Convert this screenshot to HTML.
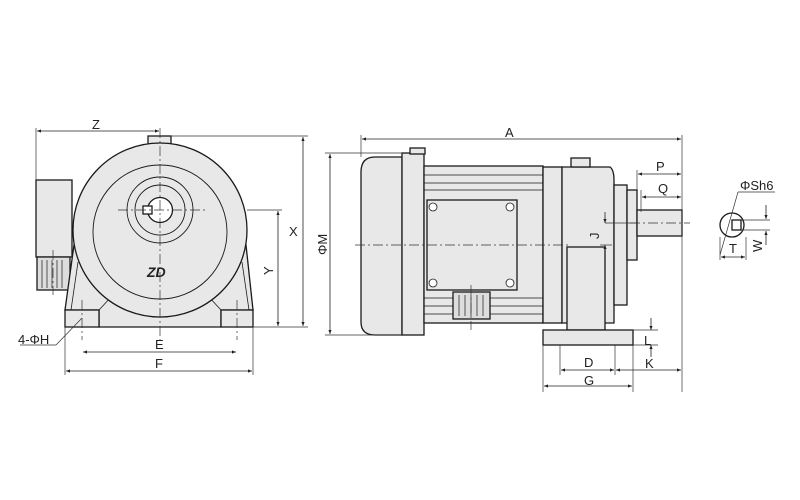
<!DOCTYPE html>
<html><head><meta charset="utf-8"><style>
html,body{margin:0;padding:0;background:#fff}
svg{display:block}
text{font-family:"Liberation Sans",sans-serif;font-size:13px;fill:#222}
</style></head><body>
<svg width="800" height="500" viewBox="0 0 800 500" xmlns="http://www.w3.org/2000/svg">
<defs>
<marker id="a" viewBox="0 0 10 10" refX="10" refY="5" markerWidth="7" markerHeight="5" orient="auto-start-reverse"><path d="M0,1 L10,5 L0,9z" fill="#222"/></marker>
</defs>
<g stroke="#1a1a1a" stroke-width="1.3" fill="#e8e8e8">
<!-- LEFT VIEW -->
<rect x="36" y="180" width="36" height="77"/>
<rect x="37" y="257" width="33" height="33" fill="#ddd"/>
<g stroke-width="0.7"><line x1="42" y1="260" x2="42" y2="288"/><line x1="47" y1="260" x2="47" y2="288"/><line x1="52" y1="260" x2="52" y2="288"/><line x1="57" y1="260" x2="57" y2="288"/><line x1="62" y1="260" x2="62" y2="288"/></g>
<path d="M74,245 L65,310 L99,310 L99,327 L221,327 L221,310 L253,310 L246,245 Z"/>
<g stroke-width="0.8" fill="none"><line x1="78" y1="262" x2="71" y2="310"/><line x1="242" y1="262" x2="249" y2="310"/><line x1="99" y1="310" x2="112" y2="296"/><line x1="221" y1="310" x2="208" y2="296"/></g>
<rect x="65" y="310" width="34" height="17"/>
<rect x="221" y="310" width="32" height="17"/>
<rect x="148" y="136" width="23" height="10"/>
<circle cx="160" cy="230" r="87"/>
<circle cx="160" cy="232" r="67" fill="none" stroke-width="0.9"/>
<circle cx="160" cy="210" r="33" fill="none" stroke-width="0.9"/>
<circle cx="160" cy="210" r="25" fill="none" stroke-width="0.9"/>
<circle cx="160" cy="210" r="12.5" fill="#fff"/>
<rect x="143" y="206" width="9" height="8" fill="#fff"/>
<!-- RIGHT VIEW -->
<path d="M402,157 L375,157 Q361,157 361,172 L361,322 Q361,335 375,335 L402,335 Z"/>
<rect x="402" y="153" width="22" height="182"/>
<rect x="410" y="148" width="15" height="6"/>
<rect x="424" y="166" width="119" height="157"/>
<g stroke-width="0.8" fill="none"><line x1="424" y1="175" x2="543" y2="175"/><line x1="424" y1="183" x2="543" y2="183"/><line x1="424" y1="190" x2="543" y2="190"/><line x1="424" y1="298" x2="543" y2="298"/><line x1="424" y1="306" x2="543" y2="306"/><line x1="424" y1="314" x2="543" y2="314"/></g>
<rect x="427" y="200" width="90" height="90"/>
<g fill="#fff" stroke-width="0.8"><circle cx="433" cy="207" r="4"/><circle cx="510" cy="207" r="4"/><circle cx="433" cy="283" r="4"/><circle cx="510" cy="283" r="4"/></g>
<rect x="453" y="292" width="37" height="27" fill="#ddd"/>
<g stroke-width="0.7"><line x1="459" y1="295" x2="459" y2="316"/><line x1="465" y1="295" x2="465" y2="316"/><line x1="471" y1="295" x2="471" y2="316"/><line x1="477" y1="295" x2="477" y2="316"/><line x1="483" y1="295" x2="483" y2="316"/></g>
<rect x="543" y="167" width="19" height="156"/>
<path d="M562,167 L610,167 Q614,170 614,180 L614,323 L562,323 Z"/>
<rect x="571" y="158" width="19" height="9"/>
<rect x="614" y="185" width="13" height="120"/>
<rect x="627" y="190" width="10" height="70"/>
<rect x="637" y="210" width="45" height="26"/>
<rect x="567" y="247" width="38" height="83"/>
<rect x="543" y="330" width="90" height="15"/>
<!-- small section -->
<circle cx="732" cy="225" r="12" fill="#fff"/>
<rect x="732" y="220" width="9" height="10" fill="#fff"/>
</g>
<!-- center lines -->
<g stroke="#333" stroke-width="0.7" stroke-dasharray="10,3,2,3" fill="none">
<line x1="160" y1="128" x2="160" y2="340"/>
<line x1="118" y1="210" x2="205" y2="210"/>
<line x1="82" y1="300" x2="82" y2="340"/>
<line x1="237" y1="300" x2="237" y2="340"/>
<line x1="355" y1="245" x2="570" y2="245"/>
<line x1="471" y1="285" x2="471" y2="330"/>
<line x1="630" y1="223" x2="690" y2="223"/>
<line x1="53" y1="250" x2="53" y2="295"/>
</g>
<!-- dim/ext lines -->
<g stroke="#333" stroke-width="0.7" fill="none">
<line x1="36" y1="128" x2="36" y2="180"/>
<line x1="171" y1="136" x2="308" y2="136"/>
<line x1="247" y1="210" x2="282" y2="210"/>
<line x1="253" y1="327" x2="308" y2="327"/>
<line x1="65" y1="327" x2="65" y2="375"/>
<line x1="253" y1="327" x2="253" y2="375"/>
<line x1="361" y1="135" x2="361" y2="157"/>
<line x1="682" y1="135" x2="682" y2="392"/>
<line x1="325" y1="153" x2="402" y2="153"/>
<line x1="325" y1="335" x2="402" y2="335"/>
<line x1="637" y1="170" x2="637" y2="190"/>
<line x1="641" y1="190" x2="641" y2="212"/>
<line x1="605" y1="223" x2="637" y2="223"/>
<line x1="600" y1="245" x2="612" y2="245"/>
<line x1="633" y1="330" x2="658" y2="330"/>
<line x1="633" y1="345" x2="658" y2="345"/>
<line x1="560" y1="345" x2="560" y2="375"/>
<line x1="615" y1="345" x2="615" y2="375"/>
<line x1="543" y1="345" x2="543" y2="392"/>
<line x1="633" y1="345" x2="633" y2="392"/>
<line x1="20" y1="345" x2="56" y2="345"/><line x1="56" y1="345" x2="82" y2="318"/>
<line x1="738" y1="192" x2="775" y2="192"/><line x1="738" y1="192" x2="720" y2="255"/>
<line x1="720" y1="237" x2="720" y2="260"/><line x1="746" y1="237" x2="746" y2="260"/>
<line x1="741" y1="220" x2="770" y2="220"/><line x1="741" y1="230" x2="770" y2="230"/>
</g>
<g stroke="#222" stroke-width="0.8" fill="none" marker-start="url(#a)" marker-end="url(#a)">
<line x1="37" y1="131" x2="159" y2="131"/>
<line x1="303" y1="137" x2="303" y2="326"/>
<line x1="278" y1="211" x2="278" y2="326"/>
<line x1="83" y1="352" x2="236" y2="352"/>
<line x1="66" y1="371" x2="252" y2="371"/>
<line x1="362" y1="139" x2="681" y2="139"/>
<line x1="330" y1="154" x2="330" y2="334"/>
<line x1="638" y1="174" x2="681" y2="174"/>
<line x1="642" y1="197" x2="681" y2="197"/>
<line x1="561" y1="370" x2="614" y2="370"/>
<line x1="616" y1="370" x2="681" y2="370"/>
<line x1="544" y1="386" x2="632" y2="386"/>
<line x1="721" y1="257" x2="745" y2="257"/>
</g>
<g stroke="#222" stroke-width="0.8" fill="none" marker-end="url(#a)">
<line x1="605" y1="212" x2="605" y2="223"/>
<line x1="605" y1="256" x2="605" y2="245"/>
<line x1="651" y1="318" x2="651" y2="330"/>
<line x1="651" y1="357" x2="651" y2="345"/>
<line x1="766" y1="205" x2="766" y2="219"/>
<line x1="766" y1="245" x2="766" y2="231"/>
</g>
<!-- labels -->
<text x="92" y="129">Z</text>
<text x="289" y="236">X</text>
<text x="264" y="276" transform="rotate(-90 268 271)">Y</text>
<text x="155" y="349">E</text>
<text x="155" y="368">F</text>
<text x="18" y="344">4-ΦH</text>
<text x="147" y="277" style="font-weight:bold;font-style:italic;font-size:14px">ZD</text>
<text x="505" y="137">A</text>
<text x="310" y="252" transform="rotate(-90 320 245)">ΦM</text>
<text x="656" y="171">P</text>
<text x="658" y="193">Q</text>
<text x="590" y="238" transform="rotate(-90 595 234)">J</text>
<text x="644" y="345">L</text>
<text x="645" y="368">K</text>
<text x="584" y="367">D</text>
<text x="584" y="385">G</text>
<text x="740" y="190">ΦSh6</text>
<text x="729" y="253">T</text>
<text x="752" y="252" transform="rotate(-90 757 247)">W</text>
</svg>
</body></html>
